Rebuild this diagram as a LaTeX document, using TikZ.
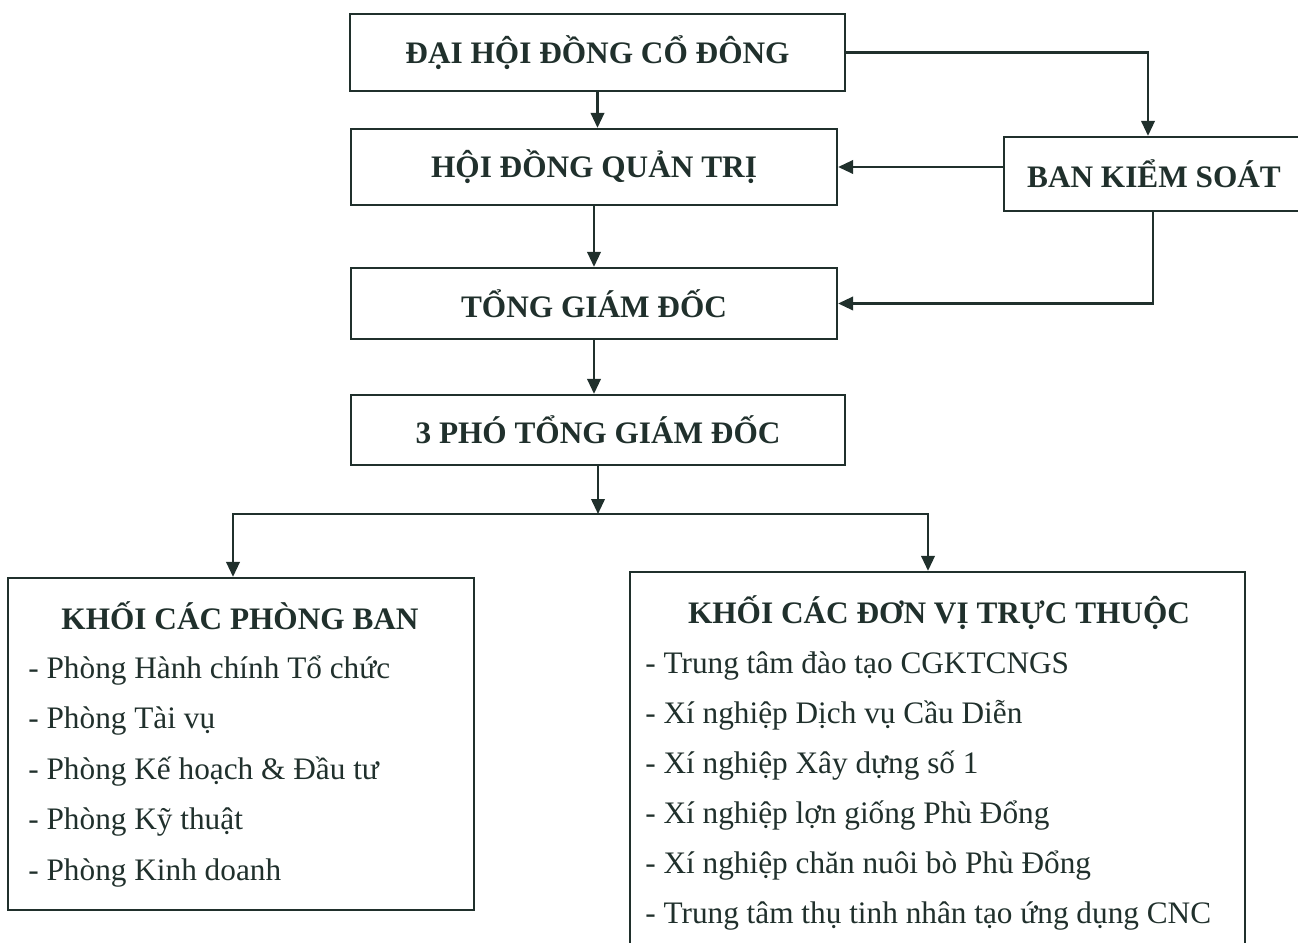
\documentclass[tikz,border=0pt]{standalone}
\usepackage{fontspec}
\setmainfont{Liberation Serif}
\usetikzlibrary{arrows.meta,positioning,calc}
\definecolor{ink}{RGB}{32,48,44}

\begin{document}
\begin{tikzpicture}[
  box/.style={draw=ink,line width=1.3pt,inner sep=0pt,text=ink,font=\fontsize{17.8}{21}\selectfont\bfseries},
  head/.style={anchor=base,inner sep=0pt,text=ink,font=\fontsize{17.8}{21}\selectfont\bfseries},
  item/.style={anchor=base west,inner sep=0pt,text=ink,font=\fontsize{17.8}{21}\selectfont},
  arr/.style={draw=ink,line width=1.3pt,-{Triangle[length=3mm,width=2.7mm]}}
]
\useasboundingbox (0,0) rectangle (25.96,-18.86);
\node[box,minimum width=9.9cm,minimum height=1.54cm] (dhd) at (11.95,-1.05) {ĐẠI HỘI ĐỒNG CỔ ĐÔNG};
\node[box,minimum width=9.72cm,minimum height=1.52cm] (hdqt) at (11.88,-3.34) {HỘI ĐỒNG QUẢN TRỊ};
\node[box,minimum width=7cm,minimum height=1.48cm] (bks) at (23.58,-3.48) {\hspace*{-10mm}BAN KIỂM SOÁT};
\node[box,minimum width=9.72cm,minimum height=1.42cm] (tgd) at (11.88,-6.07) {TỔNG GIÁM ĐỐC};
\node[box,minimum width=9.88cm,minimum height=1.4cm] (ptgd) at (11.96,-8.6) {3 PHÓ TỔNG GIÁM ĐỐC};
\node[box,minimum width=9.32cm,minimum height=6.64cm] (kpb) at (4.82,-14.88) {};
\node[box,minimum width=12.3cm,minimum height=7.76cm] (kdv) at (18.75,-15.32) {};
% left block
\node[head] (kpbt) at (4.8,-12.58) {KHỐI CÁC PHÒNG BAN};
\node[item] (pb1) at (0.56,-13.56) {- Phòng Hành chính Tổ chức};
\node[item] (pb2) at (0.56,-14.57) {- Phòng Tài vụ};
\node[item] (pb3) at (0.56,-15.58) {- Phòng Kế hoạch \& Đầu tư};
\node[item] (pb4) at (0.56,-16.59) {- Phòng Kỹ thuật};
\node[item] (pb5) at (0.56,-17.60) {- Phòng Kinh doanh};
% right block
\node[head] (kdvt) at (18.78,-12.46) {KHỐI CÁC ĐƠN VỊ TRỰC THUỘC};
\node[item] (dv1) at (12.9,-13.46) {- Trung tâm đào tạo CGKTCNGS};
\node[item] (dv2) at (12.9,-14.46) {- Xí nghiệp Dịch vụ Cầu Diễn};
\node[item] (dv3) at (12.9,-15.46) {- Xí nghiệp Xây dựng số 1};
\node[item] (dv4) at (12.9,-16.46) {- Xí nghiệp lợn giống Phù Đổng};
\node[item] (dv5) at (12.9,-17.46) {- Xí nghiệp chăn nuôi bò Phù Đổng};
\node[item] (dv6) at (12.9,-18.46) {- Trung tâm thụ tinh nhân tạo ứng dụng CNC};
\coordinate (jn) at (11.96,-10.28);
\draw[arr] (dhd.south) -- (dhd.south |- hdqt.north);
\draw[arr] (dhd.east) -| ([xshift=-6.2mm]bks.north);
\draw[arr] (bks.west |- hdqt.east) -- (hdqt.east);
\draw[arr] (hdqt.south) -- (tgd.north);
\draw[arr] ([xshift=-5.2mm]bks.south) |- (tgd.east);
\draw[arr] (tgd.south) -- (tgd.south |- ptgd.north);
\draw[arr] (ptgd.south) -- (jn);
\draw[arr] (jn) -| ([xshift=-1.6mm]kpb.north);
\draw[arr] (jn) -| ([xshift=-1.9mm]kdv.north);
\end{tikzpicture}
\end{document}
